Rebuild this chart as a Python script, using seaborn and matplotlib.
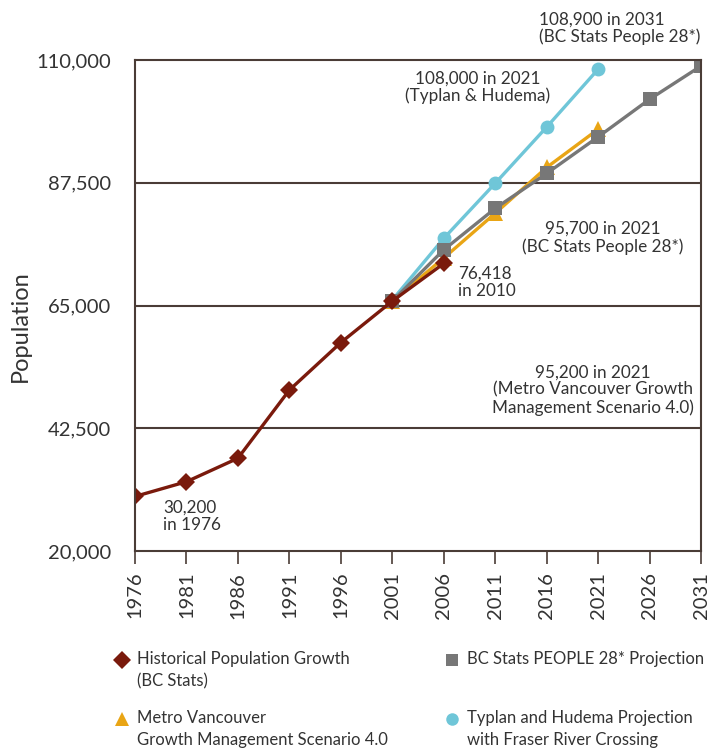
import matplotlib
matplotlib.use("Agg")
import matplotlib.pyplot as plt
from matplotlib.lines import Line2D
import seaborn as sns

# data
hist_years = [1976, 1981, 1986, 1991, 1996, 2001, 2006]
hist_pop = [30000, 32700, 37000, 49500, 58200, 65800, 72700]

proj_years = [2001, 2006, 2011, 2016, 2021]
metro_pop = [65800, 73700, 81900, 90300, 97300]
typlan_pop = [66000, 77300, 87400, 97700, 108300]

bc_years = [2001, 2006, 2011, 2016, 2021, 2026, 2031]
bc_pop = [65800, 75200, 82800, 89200, 95900, 102800, 108900]

year_ticks = list(range(1976, 2032, 5))
pop_ticks = [20000, 42500, 65000, 87500, 110000]

c_hist = "#7a1a0c"
c_bc = "#777777"
c_metro = "#e9a515"
c_typ = "#6fc6d8"
c_axis = "#4a3c36"
c_text = "#333333"

sns.set_style("white")
plt.rcParams['font.family'] = ['Lato', 'DejaVu Sans']

W, H = 723, 751
fig = plt.figure(figsize=(W / 100, H / 100), dpi=100)
ax = fig.add_axes([135 / W, 1 - 551 / H, (701 - 135) / W, (551 - 60) / H])

lw = 2.4
sns.lineplot(x=proj_years, y=typlan_pop, ax=ax, color=c_typ, lw=lw, marker="o",
             markersize=10, markeredgewidth=0)
sns.lineplot(x=proj_years, y=metro_pop, ax=ax, color=c_metro, lw=lw, marker="^",
             markersize=11, markeredgewidth=0)
sns.lineplot(x=bc_years, y=bc_pop, ax=ax, color=c_bc, lw=lw, marker="s",
             markersize=9.5, markeredgewidth=0)
sns.lineplot(x=hist_years, y=hist_pop, ax=ax, color=c_hist, lw=lw, marker="D",
             markersize=9, markeredgewidth=0)

ax.set_xlim(1976, 2031)
ax.set_ylim(20000, 110000)
ax.set_xticks(year_ticks)
ax.set_xticklabels([str(y) for y in year_ticks], rotation=90, fontsize=14.5, color=c_text)
ax.set_yticks(pop_ticks)
ax.set_yticklabels([f"{p:,}" for p in pop_ticks], fontsize=14.5, color=c_text)
ax.tick_params(axis="x", length=9, width=1.2, color=c_axis, pad=6, bottom=True)
ax.tick_params(axis="y", length=0, pad=17)
for s in ax.spines.values():
    s.set_color(c_axis)
    s.set_linewidth(1.5)
for p in pop_ticks[1:-1]:
    ax.axhline(p, color=c_axis, lw=1.5, zorder=0)
ax.set_ylabel("Population", fontsize=17, color=c_text)
ax.yaxis.set_label_coords(-0.184, 0.458)
ax.set_xlabel("")

# annotations
kw = dict(fontsize=12.3, color=c_text, linespacing=1.1)
ax.text(2015.26, 115770, "108,900 in 2031\n(BC Stats People 28*)", ha="left",
        va="center", clip_on=False, **kw)
ax.text(2009.33, 104960, "108,000 in 2021\n(Typlan & Hudema)", ha="center", va="center",
        multialignment="center", **kw)
ax.text(2021.43, 77375, "95,700 in 2021\n(BC Stats People 28*)", ha="center", va="center",
        multialignment="center", **kw)
ax.text(2007.39, 69220, "76,418\nin 2010", ha="left", va="center", **kw)
ax.text(2020.5, 49520, "95,200 in 2021\n(Metro Vancouver Growth\nManagement Scenario 4.0)",
        ha="center", va="center", multialignment="center", **kw)
ax.text(1978.72, 26330, "30,200\nin 1976", ha="left", va="center", **kw)

# legend, two columns, marker level with first text line
legend_items = [
    ("D", c_hist, 9, 122, 660, "Historical Population Growth\n(BC Stats)"),
    ("^", c_metro, 10, 122, 719, "Metro Vancouver\nGrowth Management Scenario 4.0"),
    ("s", c_bc, 9, 452, 660, "BC Stats PEOPLE 28* Projection"),
    ("o", c_typ, 9, 452, 719, "Typlan and Hudema Projection\nwith Fraser River Crossing"),
]
for m, c, ms, px, py, label in legend_items:
    fig.add_artist(Line2D([px / W], [1 - py / H], transform=fig.transFigure,
                          linestyle="none", marker=m, color=c, markersize=ms,
                          markeredgewidth=0))
    fig.text((px + 15) / W, 1 - (py - 9) / H, label, ha="left", va="top",
             fontsize=12, color=c_text, linespacing=1.45)

fig.savefig("out.png", dpi=100)
